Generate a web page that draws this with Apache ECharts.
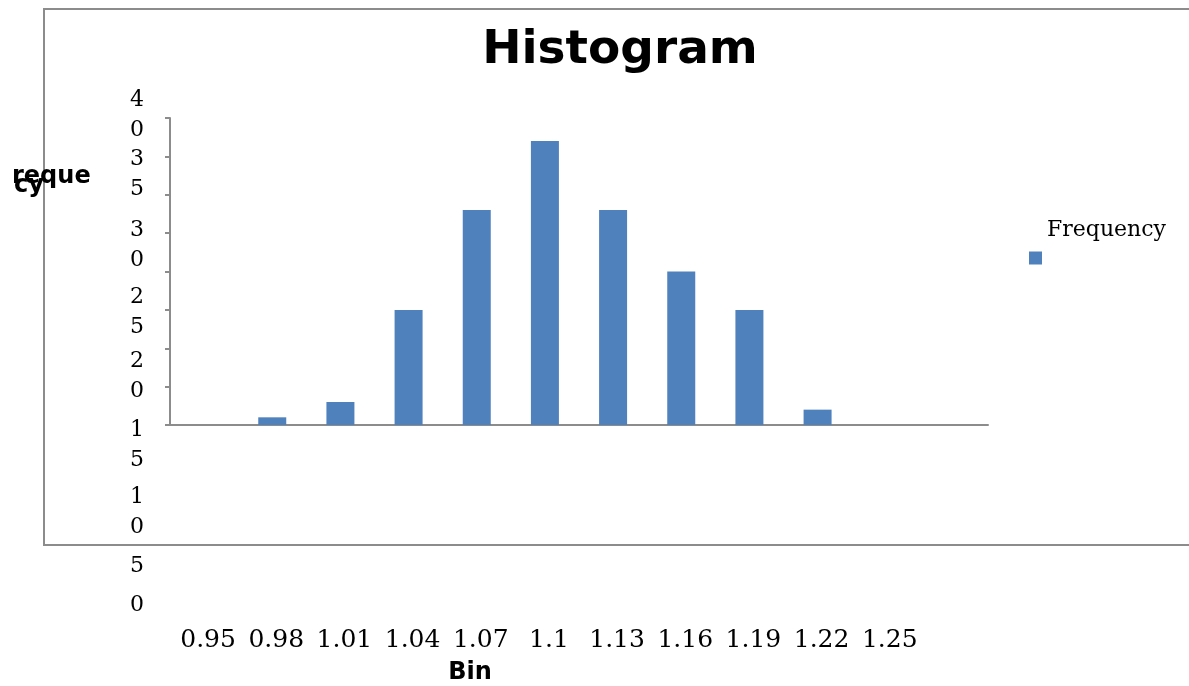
<!DOCTYPE html>
<html>
<head>
<meta charset="utf-8">
<style>
  html, body { margin: 0; padding: 0; background: #fff; overflow: hidden; }
  #chart { width: 1189px; height: 686px; }
</style>
<script src="https://cdn.jsdelivr.net/npm/echarts@6/dist/echarts.min.js"></script>
</head>
<body>
<div id="chart"></div>
<script>
// bins (last one is the empty "More" slot, label not shown)
var bins = ["0.95", "0.98", "1.01", "1.04", "1.07", "1.1", "1.13", "1.16", "1.19", "1.22", "1.25", ""];
var frequency = [0, 1, 3, 15, 28, 37, 28, 20, 15, 2, 0, 0];
var yTickLabels = ["40", "35", "30", "25", "20", "15", "10", "5", "0"];

// where each wrapped tick label starts (they spill past the axis)
var yLabelTop = [100, 159, 230, 297, 361, 430, 497, 566, 605];

var chart = echarts.init(document.getElementById("chart"));

var yLabelText = [];
yTickLabels.forEach(function (lab, i) {
  lab.split("").forEach(function (d, j) {
    yLabelText.push({
      type: "text",
      x: 137,
      y: yLabelTop[i] + j * 30,
      style: {
        text: d,
        font: "22px 'DejaVu Serif'",
        fill: "#000",
        align: "center",
        verticalAlign: "middle"
      }
    });
  });
});

var option = {
  animation: false,
  title: {
    text: "Histogram",
    left: 615,
    top: 22,
    textAlign: "center",
    textStyle: {
      fontFamily: "DejaVu Sans",
      fontWeight: "bold",
      fontSize: 47,
      color: "#000"
    }
  },
  legend: {
    left: 1029,
    top: 202,
    padding: 0,
    itemWidth: 13,
    itemHeight: 13,
    itemGap: 5,
    icon: "rect",
    data: ["Frequency"],
    formatter: "{name}\n",
    textStyle: {
      fontFamily: "DejaVu Serif",
      fontSize: 22,
      lineHeight: 56,
      color: "#000"
    }
  },
  grid: {
    left: 170,
    top: 118,
    width: 818,
    height: 307
  },
  xAxis: {
    type: "category",
    data: bins,
    axisLine: { lineStyle: { color: "#8c8c8c", width: 2 } },
    axisTick: { show: false },
    axisLabel: {
      interval: 0,
      margin: 203,
      fontFamily: "DejaVu Serif",
      fontSize: 25,
      color: "#000",
      padding: [0, 0, 0, 8]
    }
  },
  yAxis: {
    type: "value",
    min: 0,
    max: 40,
    interval: 5,
    splitLine: { show: false },
    axisLine: { show: true, lineStyle: { color: "#8c8c8c", width: 2 } },
    axisTick: { show: true, length: 5, lineStyle: { color: "#8c8c8c", width: 2 } },
    axisLabel: { show: false }
  },
  series: [
    {
      name: "Frequency",
      type: "bar",
      data: frequency,
      barWidth: 28,
      itemStyle: { color: "#4f81bd" }
    }
  ],
  graphic: [
    {
      // outer chart frame, its right side runs off the page
      type: "polyline",
      shape: { points: [[1189, 9], [44, 9], [44, 545], [1189, 545]] },
      style: { fill: null, stroke: "#8c8c8c", lineWidth: 2 },
      z: -1
    },
    {
      type: "text",
      x: 12,
      y: 177,
      style: { text: "reque", font: "bold 24px 'DejaVu Sans'", fill: "#000", verticalAlign: "middle" }
    },
    {
      type: "text",
      x: 14,
      y: 186,
      style: { text: "cy", font: "bold 24px 'DejaVu Sans'", fill: "#000", verticalAlign: "middle" }
    },
    {
      type: "text",
      x: 470,
      y: 673,
      style: { text: "Bin", font: "bold 24px 'DejaVu Sans'", fill: "#000", align: "center", verticalAlign: "middle" }
    }
  ].concat(yLabelText)
};

chart.setOption(option);
window.addEventListener("resize", function () {
  chart.resize();
});
</script>
</body>
</html>
